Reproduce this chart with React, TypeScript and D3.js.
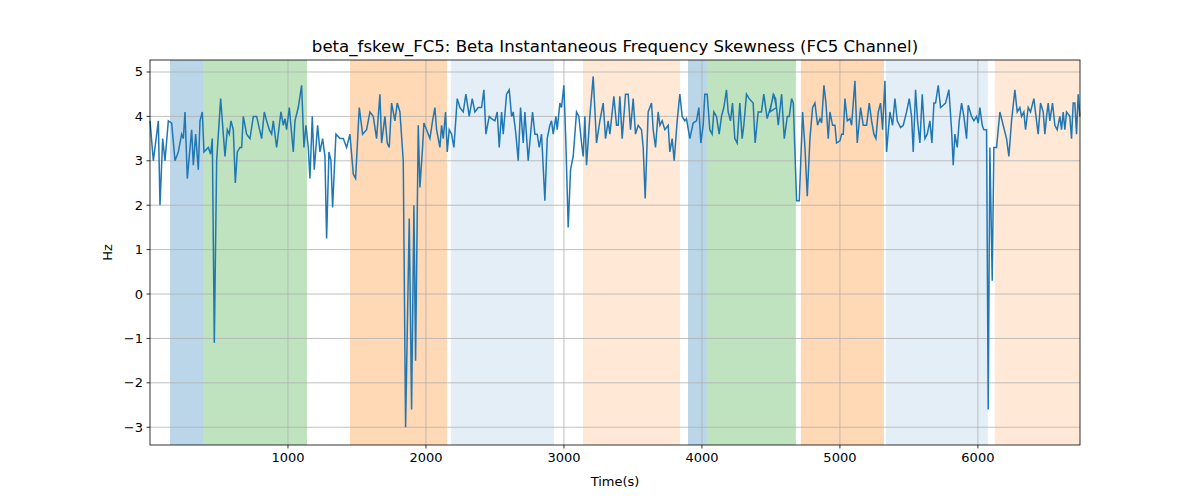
import * as d3 from "d3";

const W = 1200;
const H = 500;
const M = { top: 60, right: 120, bottom: 55, left: 150 };

// spans: [start, end, kind]
const SPAN_START = [145, 384, 1449, 2181, 3138, 3899, 4036, 4717, 5333, 6123];
const SPAN_END = [384, 1138, 2152, 2928, 3841, 4036, 4681, 5319, 6072, 6740];
const SPAN_KIND = ["blue", "green", "orange", "lblue", "lorange", "blue", "green", "orange", "lblue", "lorange"];
const SPAN_FILL: Record<string, string> = {
  blue: "rgba(31,119,180,0.3)",
  green: "rgba(44,160,44,0.3)",
  orange: "rgba(255,127,14,0.3)",
  lblue: "rgba(31,119,180,0.12)",
  lorange: "rgba(255,127,14,0.17)",
};

// three stretches of the series; offsets are read in units of ~2.415 s
const SEG_T0 = [0, 2246, 4493];
const SEG_OFF = [
  [0, 10, 25, 30, 38, 45, 55, 65, 75, 85, 95, 100, 105, 112, 125, 130, 137, 145, 150, 157, 162, 175, 182, 187, 193, 200, 212, 225, 232, 238, 243, 250, 256, 262, 270, 275, 280, 290, 300, 310, 320, 335, 343, 350, 358, 365, 370, 380, 393, 400, 405, 410, 418, 430, 435, 445, 455, 462, 468, 475, 480, 487, 493, 503, 510, 518, 525, 530, 537, 543, 548, 558, 570, 580, 590, 600, 610, 617, 628, 638, 650, 660, 670, 680, 690, 695, 705, 712, 718, 725, 735, 742, 750, 760, 767, 778, 785, 792, 797, 805, 810, 818, 822, 830, 840, 848, 855, 860, 870, 875, 880, 887, 892, 898, 905, 912, 922, 930],
  [0, 10, 18, 28, 37, 45, 55, 65, 72, 78, 88, 95, 105, 112, 118, 125, 130, 140, 148, 155, 160, 168, 175, 182, 190, 195, 205, 212, 218, 225, 232, 238, 245, 255, 262, 270, 275, 280, 288, 292, 300, 305, 312, 318, 325, 332, 340, 350, 357, 365, 370, 375, 380, 390, 400, 410, 420, 430, 437, 445, 450, 462, 470, 475, 480, 487, 497, 505, 512, 520, 527, 535, 545, 550, 556, 565, 575, 580, 587, 595, 600, 607, 615, 625, 630, 637, 643, 652, 660, 667, 675, 680, 690, 700, 710, 717, 723, 730, 735, 742, 750, 757, 762, 770, 778, 785, 792, 800, 805, 812, 818, 825, 832, 840, 847, 852, 860, 868, 880, 886, 895, 905, 912, 922, 932, 942, 950],
  [0, 10, 17, 25, 35, 43, 52, 58, 65, 70, 80, 88, 98, 105, 112, 120, 128, 135, 143, 150, 155, 162, 168, 175, 180, 188, 195, 200, 210, 215, 220, 225, 232, 240, 245, 255, 262, 272, 280, 290, 298, 305, 312, 318, 325, 332, 338, 345, 350, 360, 368, 375, 382, 392, 400, 410, 418, 425, 430, 437, 443, 450, 457, 465, 472, 480, 486, 492, 497, 505, 512, 520, 527, 537, 545, 550, 555, 562, 568, 575, 582, 590, 595, 605, 612, 620, 625, 630, 637, 642, 650, 655, 660, 667, 672, 680, 690, 700, 710, 717, 725, 735, 742, 750, 755, 762, 767, 775, 782, 792, 800, 805, 812, 820, 825, 830, 835, 840, 848, 855, 862, 870, 875, 880, 885, 890, 900, 905, 910, 915, 920, 925, 930],
];
const SEG_VAL = [
  [3.9, 3.0, 3.9, 2.0, 3.5, 3.0, 3.9, 3.85, 3.0, 3.2, 3.6, 3.5, 4.1, 2.6, 3.7, 2.9, 3.6, 2.8, 3.9, 4.1, 3.2, 3.3, 3.15, 3.5, -1.1, 3.0, 4.4, 3.1, 3.7, 3.6, 3.9, 3.7, 2.5, 3.2, 3.3, 3.3, 4.0, 3.6, 3.5, 4.0, 4.0, 3.5, 4.1, 3.9, 3.7, 3.6, 3.9, 3.3, 4.1, 3.8, 3.95, 3.7, 4.2, 3.2, 3.9, 4.2, 4.7, 3.3, 3.8, 3.3, 2.6, 4.0, 2.8, 3.8, 3.2, 3.5, 3.1, 1.25, 3.2, 3.0, 1.95, 3.6, 3.5, 3.5, 3.3, 3.6, 2.7, 2.6, 4.2, 3.6, 3.7, 4.1, 4.0, 3.5, 4.5, 3.4, 4.0, 3.4, 3.3, 4.3, 3.9, 4.3, 4.1, 3.0, -3.0, 1.7, -2.6, 2.0, -1.5, 3.8, 2.4, 3.3, 3.85, 3.7, 3.5, 3.9, 4.2, 3.7, 3.3, 3.8, 3.5, 4.1, 3.2, 3.7, 3.6, 3.3, 4.4, 4.2],
  [4.2, 4.1, 4.5, 4.0, 4.4, 4.1, 4.2, 4.2, 4.6, 3.6, 4.0, 3.95, 3.9, 4.1, 3.3, 4.1, 3.6, 4.5, 4.6, 4.0, 4.1, 3.6, 3.0, 4.2, 3.4, 4.1, 3.0, 3.6, 4.1, 3.6, 3.6, 3.3, 3.6, 2.1, 3.5, 3.8, 3.9, 3.6, 4.0, 3.7, 4.3, 4.2, 4.7, 3.4, 1.5, 2.8, 3.1, 4.1, 4.0, 3.4, 3.1, 4.0, 2.9, 4.0, 4.9, 3.4, 3.9, 4.3, 3.5, 3.9, 3.6, 4.45, 3.8, 3.8, 4.45, 3.5, 4.5, 4.5, 3.7, 4.4, 3.6, 3.8, 3.7, 3.3, 2.15, 4.1, 4.3, 3.7, 3.3, 4.1, 3.8, 3.9, 3.7, 3.8, 3.2, 3.5, 3.0, 3.9, 4.5, 4.0, 3.9, 3.95, 3.5, 3.85, 3.9, 4.2, 3.4, 3.8, 4.5, 4.5, 3.7, 3.6, 4.1, 4.0, 3.6, 4.0, 4.2, 4.6, 4.1, 3.9, 4.3, 3.5, 3.4, 4.3, 3.5, 3.8, 4.5, 4.4, 4.3, 3.4, 4.1, 4.1, 4.5, 3.95, 4.2, 4.5, 4.2],
  [4.1, 4.5, 4.4, 3.8, 4.5, 3.5, 4.0, 4.0, 4.4, 4.3, 2.1, 2.1, 4.1, 3.3, 2.2, 3.5, 4.2, 4.3, 3.8, 3.95, 3.85, 4.7, 4.3, 3.5, 4.1, 3.8, 3.8, 3.4, 3.45, 3.6, 3.6, 4.4, 3.9, 3.95, 3.8, 4.8, 3.4, 4.2, 3.8, 3.8, 4.3, 3.9, 3.6, 3.5, 4.1, 4.3, 3.7, 4.8, 3.2, 4.1, 3.8, 4.4, 3.9, 3.75, 3.8, 4.1, 4.4, 4.0, 3.2, 4.6, 3.9, 3.4, 4.5, 3.5, 3.6, 3.9, 3.4, 4.3, 4.3, 4.7, 4.2, 4.25, 4.3, 4.6, 3.7, 2.9, 3.6, 3.3, 3.9, 4.3, 4.0, 3.5, 4.25, 4.0, 3.9, 4.0, 3.85, 4.2, 3.8, 3.7, 3.7, -2.6, 3.3, 0.3, 3.3, 3.3, 4.1, 3.8, 3.5, 3.1, 3.9, 4.6, 4.1, 4.2, 4.0, 4.1, 3.7, 4.2, 4.1, 4.4, 3.9, 3.6, 4.3, 4.1, 3.6, 4.0, 4.3, 3.9, 4.3, 3.8, 3.7, 4.0, 3.7, 4.1, 3.7, 4.1, 4.0, 3.5, 4.3, 4.3, 3.6, 4.5, 4.0],
];
const X_TICKS = [1000, 2000, 3000, 4000, 5000, 6000];
const Y_TICKS = [-3, -2, -1, 0, 1, 2, 3, 4, 5];

const STEP = 2.415;

export default function App() {
  const pts: [number, number][] = [];
  SEG_OFF.forEach((offs, s) => offs.forEach((o, i) => pts.push([SEG_T0[s] + o * STEP, SEG_VAL[s][i]])));

  const x = d3.scaleLinear().domain([0, 6740]).range([M.left, W - M.right]);
  const y = d3.scaleLinear().domain([-3.4, 5.27]).range([H - M.bottom, M.top]);
  const line = d3.line<[number, number]>().x((d) => x(d[0])).y((d) => y(d[1]));
  const fmt = (v: number) => (v < 0 ? "\u2212" + Math.abs(v) : String(v));
  const font = "DejaVu Sans, sans-serif";

  return (
    <div style={{ position: "absolute", left: 0, top: 0 }}>
      <svg width={W} height={H} style={{ display: "block", background: "#fff" }} fontFamily={font}>
        {SPAN_START.map((s, i) => (
          <rect key={i} x={x(s)} y={M.top} width={x(SPAN_END[i]) - x(s)} height={H - M.bottom - M.top} fill={SPAN_FILL[SPAN_KIND[i]]} />
        ))}
        {X_TICKS.map((t) => (
          <line key={t} x1={x(t)} x2={x(t)} y1={M.top} y2={H - M.bottom} stroke="#b0b0b0" strokeWidth={0.8} />
        ))}
        {Y_TICKS.map((t) => (
          <line key={t} x1={M.left} x2={W - M.right} y1={y(t)} y2={y(t)} stroke="#b0b0b0" strokeWidth={0.8} />
        ))}
        <path d={line(pts) ?? ""} fill="none" stroke="#1f77b4" strokeWidth={1.5} />
        <rect x={M.left} y={M.top} width={W - M.left - M.right} height={H - M.top - M.bottom} fill="none" stroke="#000" strokeWidth={0.8} />
        {X_TICKS.map((t) => (
          <g key={t}>
            <line x1={x(t)} x2={x(t)} y1={H - M.bottom} y2={H - M.bottom + 3.5} stroke="#000" strokeWidth={0.8} />
            <text x={x(t)} y={H - M.bottom + 17} textAnchor="middle" fontSize={13}>{t}</text>
          </g>
        ))}
        {Y_TICKS.map((t) => (
          <g key={t}>
            <line x1={M.left - 3.5} x2={M.left} y1={y(t)} y2={y(t)} stroke="#000" strokeWidth={0.8} />
            <text x={M.left - 7} y={y(t) + 4.5} textAnchor="end" fontSize={13}>{fmt(t)}</text>
          </g>
        ))}
        <text x={(M.left + W - M.right) / 2} y={486} textAnchor="middle" fontSize={13}>Time(s)</text>
        <text transform={`translate(112,${(M.top + H - M.bottom) / 2}) rotate(-90)`} textAnchor="middle" fontSize={13}>Hz</text>
        <text x={(M.left + W - M.right) / 2} y={52} textAnchor="middle" fontSize={16.6}>
          beta_fskew_FC5: Beta Instantaneous Frequency Skewness (FC5 Channel)
        </text>
      </svg>
    </div>
  );
}
